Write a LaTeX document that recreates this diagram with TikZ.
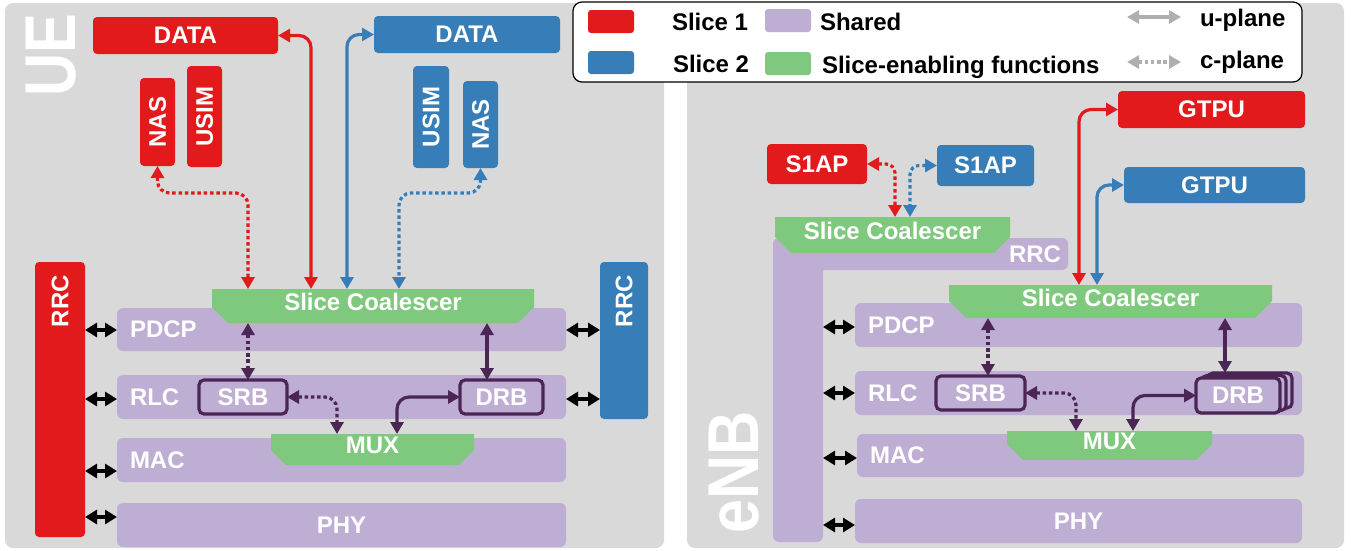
\documentclass[tikz,border=0pt]{standalone}
\usepackage{fontspec}
\setmainfont{Liberation Sans}
\usetikzlibrary{arrows.meta}
\definecolor{sred}{HTML}{E31A1C}
\definecolor{sblue}{HTML}{377EB8}
\definecolor{spurple}{HTML}{BEAED4}
\definecolor{sgreen}{HTML}{7FC97F}
\definecolor{dpurple}{HTML}{4B2655}
\definecolor{panelgray}{HTML}{D9D9D9}
\definecolor{leggray}{HTML}{B0AEAE}
\newcommand\lab{\bfseries\fontsize{24}{28}\selectfont}
\newcommand\biglab{\bfseries\fontsize{72}{80}\selectfont}
\begin{document}
\begin{tikzpicture}[x=1pt,y=-1pt,
  every node/.style={inner sep=0pt, outer sep=0pt},
  panel/.style={fill=panelgray, rounded corners=8pt, anchor=north west},
  box/.style={anchor=north west, rounded corners=4pt, text=white, font=\lab},
  rbox/.style={box, fill=sred},
  bbox/.style={box, fill=sblue},
  layer/.style={anchor=north west, fill=spurple, rounded corners=6pt, text=white, font=\lab, align=left, inner xsep=13pt, text width=423pt},
  player/.style={anchor=north west, fill=spurple, rounded corners=6pt, text=white, font=\lab},
  chamf/.style={anchor=north west, text=white, font=\lab, text depth=8pt,
    path picture={\fill[sgreen] (path picture bounding box.north west) -- (path picture bounding box.north east) -- ([yshift=#1]path picture bounding box.south east) -- ([xshift=-#1]path picture bounding box.south east) -- ([xshift=#1]path picture bounding box.south west) -- ([yshift=#1]path picture bounding box.south west) -- cycle;}},
  bearer/.style={anchor=north west, fill=spurple, draw=dpurple, line width=3.2pt, rounded corners=5pt, text=white, font=\lab, minimum height=34pt},
  sw/.style={anchor=north west, rounded corners=3pt, minimum width=46pt, minimum height=23pt},
  lt/.style={anchor=base west, font=\lab, text=black},
  uarr/.style={<->, >={Triangle[length=12pt,width=13pt]}, line width=3.2pt, rounded corners=12pt},
  carr/.style={uarr, dash pattern=on 3.5pt off 2.8pt},
  barr/.style={<->, >={Triangle[length=12pt,width=14pt]}, line width=3.6pt, draw=black}
]
\useasboundingbox (0,0) rectangle (1351,550);
% panels
\node[panel, minimum width=659pt, minimum height=545pt] (panelU) at (5,3) {};
\node[panel, minimum width=657pt, minimum height=545pt] (panelE) at (687,3) {};
\node[text=white, font=\biglab] (ueL) at (51,55) {\rotatebox{90}{\scalebox{0.83}[1]{UE}}};
\node[text=white, font=\biglab] (enbL) at (734,472) {\rotatebox{90}{\scalebox{0.85}[1]{eNB}}};

% legend
\node[draw=black, line width=1.2pt, fill=white, rounded corners=9pt, anchor=north west, minimum width=729pt, minimum height=80pt] (legend) at (573,2) {};
\node[sw, fill=sred] (swR) at (588,10) {};
\node[sw, fill=sblue] (swB) at (588,51) {};
\node[sw, fill=spurple] (swP) at (765,9) {};
\node[sw, fill=sgreen] (swG) at (765,52) {};
\node[lt] (tS1) at (672,30) {Slice 1};
\node[lt] (tS2) at (673,72) {Slice 2};
\node[lt] (tSh) at (820,30) {Shared};
\node[lt] (tSe) at (822,73) {Slice-enabling functions};
\node[lt] (tU) at (1200,26) {u-plane};
\node[lt] (tC) at (1200,68) {c-plane};
\coordinate (lu1) at (1127,17);
\coordinate (lu2) at (1181,17);
\coordinate (lc1) at (1127,62);
\coordinate (lc2) at (1181,62);
\draw[uarr, draw=leggray] (lu1) -- (lu2);
\draw[carr, draw=leggray] (lc1) -- (lc2);

% ---------------- UE ----------------
\node[rbox, minimum width=185pt, minimum height=37pt] (dataR) at (93,17) {DATA};
\node[rbox, minimum width=35pt, minimum height=88pt] (nasR) at (140,78) {\rotatebox{90}{NAS}};
\node[rbox, minimum width=35pt, minimum height=101pt] (usimR) at (187,66) {\rotatebox{90}{USIM}};
\node[bbox, minimum width=186pt, minimum height=37pt] (dataB) at (374,16) {DATA};
\node[bbox, minimum width=36pt, minimum height=102pt] (usimB) at (413,66) {\rotatebox{90}{USIM}};
\node[bbox, minimum width=35pt, minimum height=87pt] (nasB) at (463,81) {\rotatebox{90}{NAS}};

\node[layer, minimum height=43pt] (pdcpU) at (117,308) {PDCP};
\node[layer, minimum height=44pt] (rlcU) at (117,375) {RLC};
\node[layer, minimum height=44pt] (macU) at (117,438) {MAC};
\node[player, minimum width=449pt, minimum height=44pt] (phyU) at (117,503) {PHY};

\node[chamf=16pt, minimum width=322pt, minimum height=34pt] (coalU) at (212,289) {Slice Coalescer};
\node[chamf=15pt, minimum width=203pt, minimum height=31pt] (muxU) at (271,434) {MUX};

\node[bearer, minimum width=88pt] (srbU) at (199,380) {SRB};
\node[bearer, minimum width=83pt] (drbU) at (460,380) {DRB};

\node[rbox, minimum width=50pt, minimum height=275pt] (rrcR) at (35,262) {};
\node[anchor=north, text=white, font=\lab] (rrcRt) at ([yshift=-13pt]rrcR.north) {\rotatebox{90}{RRC}};
\node[bbox, minimum width=48pt, minimum height=157pt] (rrcB) at (600,262) {};
\node[anchor=north, text=white, font=\lab] (rrcBt) at ([yshift=-13pt]rrcB.north) {\rotatebox{90}{RRC}};

% UE connectors
\coordinate (xa) at (311,0);
\coordinate (xb) at (248,193);
\coordinate (xc) at (347,0);
\coordinate (xd) at (399,193);
\coordinate (xe) at (248,0);
\coordinate (xf) at (487,0);
\coordinate (xg) at (337,0);
\coordinate (xh) at (397,0);
\draw[uarr, draw=sred] (dataR.east) -| (coalU.north -| xa);
\draw[carr, draw=sred] (nasR.south) |- (xb) -- (coalU.north -| xb);
\draw[uarr, draw=sblue] (dataB.west) -| (coalU.north -| xc);
\draw[carr, draw=sblue] (nasB.south) |- (xd) -- (coalU.north -| xd);
\draw[carr, draw=dpurple] (coalU.south -| xe) -- (srbU.north -| xe);
\draw[uarr, draw=dpurple] (coalU.south -| xf) -- (drbU.north -| xf);
\draw[carr, draw=dpurple] (srbU.east) -| (muxU.north -| xg);
\draw[uarr, draw=dpurple] (drbU.west) -| (muxU.north -| xh);

\coordinate (yA) at (0,330);
\coordinate (yB) at (0,399);
\coordinate (yC) at (0,471);
\coordinate (yD) at (0,517);
\draw[barr] (rrcR.east |- yA) -- (pdcpU.west |- yA);
\draw[barr] (rrcR.east |- yB) -- (rlcU.west |- yB);
\draw[barr] (rrcR.east |- yC) -- (macU.west |- yC);
\draw[barr] (rrcR.east |- yD) -- (phyU.west |- yD);
\draw[barr] (pdcpU.east |- yA) -- (rrcB.west |- yA);
\draw[barr] (rlcU.east |- yB) -- (rrcB.west |- yB);

% ---------------- eNB ----------------
\node[rbox, minimum width=100pt, minimum height=40pt] (s1apR) at (767,144) {S1AP};
\node[bbox, minimum width=97pt, minimum height=41pt] (s1apB) at (937,145) {S1AP};
\node[rbox, minimum width=187pt, minimum height=37pt] (gtpuR) at (1118,91) {GTPU};
\node[bbox, minimum width=181pt, minimum height=36pt] (gtpuB) at (1124,167) {GTPU};

\node[player, minimum width=50pt, minimum height=304pt] (rrcEv) at (773,238) {};
\node[player, minimum width=295pt, minimum height=32pt] (rrcEh) at (773,238) {};
\node[text=white, font=\lab] (rrcEt) at ([xshift=-33pt]rrcEh.east) {RRC};

\node[layer, minimum height=44pt, text width=421pt] (pdcpE) at (855,303) {PDCP};
\node[layer, minimum height=44pt, text width=421pt] (rlcE) at (855,371) {RLC};
\node[layer, minimum height=43pt, text width=421pt] (macE) at (857,434) {MAC};
\node[player, minimum width=447pt, minimum height=44pt] (phyE) at (855,499) {PHY};

\node[chamf=16pt, minimum width=235pt, minimum height=36pt] (coalE1) at (775,217) {Slice Coalescer};
\node[chamf=17pt, minimum width=323pt, minimum height=33pt] (coalE2) at (949,285) {Slice Coalescer};
\node[chamf=16pt, minimum width=205pt, minimum height=29pt] (muxE) at (1007,431) {MUX};

\node[bearer, minimum width=89pt] (srbE) at (936,376) {SRB};
\node[bearer, minimum width=84pt, minimum height=35pt] (drbE3) at (1208,373) {};
\node[bearer, minimum width=84pt, minimum height=35pt] (drbE2) at (1202,375.5) {};
\node[bearer, minimum width=84pt, minimum height=35pt] (drbE) at (1196,378) {DRB};

\coordinate (ea) at (895,0);
\coordinate (eb) at (910,0);
\coordinate (ec) at (1079,0);
\coordinate (ed) at (1097,0);
\coordinate (ee) at (988,0);
\coordinate (ef) at (1225,0);
\coordinate (eg) at (1076,0);
\coordinate (eh) at (1133,0);
\draw[carr, draw=sred, rounded corners=9pt] (s1apR.east) -| (coalE1.north -| ea);
\draw[carr, draw=sblue, rounded corners=9pt] (s1apB.west) -| (coalE1.north -| eb);
\draw[uarr, draw=sred] (gtpuR.west) -| (coalE2.north -| ec);
\draw[uarr, draw=sblue] (gtpuB.west) -| (coalE2.north -| ed);
\draw[carr, draw=dpurple] (coalE2.south -| ee) -- (srbE.north -| ee);
\draw[uarr, draw=dpurple] (coalE2.south -| ef) -- (drbE3.north -| ef);
\draw[carr, draw=dpurple] (srbE.east) -| (muxE.north -| eg);
\draw[uarr, draw=dpurple] (drbE.west) -| (muxE.north -| eh);

\coordinate (yE) at (0,327);
\coordinate (yF) at (0,393);
\coordinate (yG) at (0,458);
\coordinate (yH) at (0,525);
\draw[barr] (rrcEv.east |- yE) -- (pdcpE.west |- yE);
\draw[barr] (rrcEv.east |- yF) -- (rlcE.west |- yF);
\draw[barr] (rrcEv.east |- yG) -- (macE.west |- yG);
\draw[barr] (rrcEv.east |- yH) -- (phyE.west |- yH);
\end{tikzpicture}
\end{document}
